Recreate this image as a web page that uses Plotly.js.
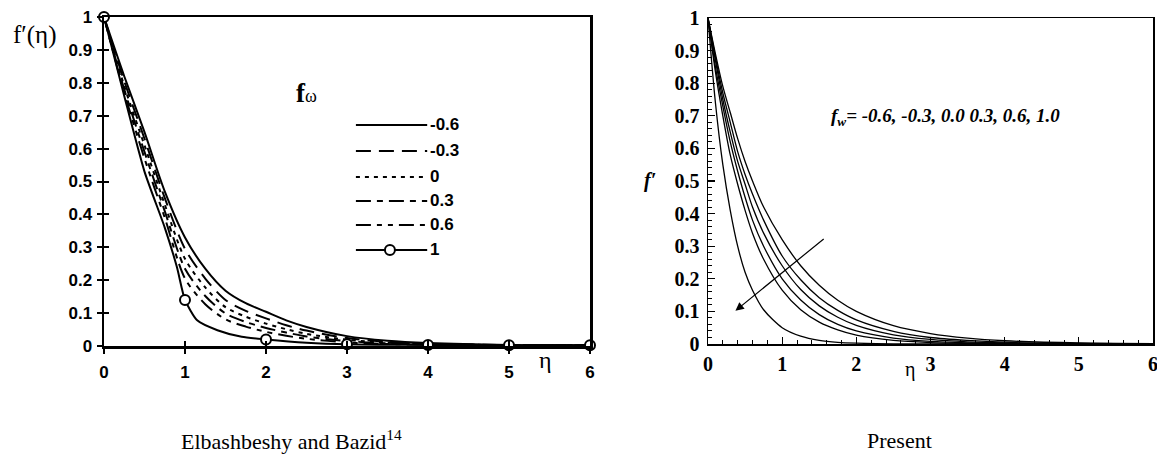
<!DOCTYPE html>
<html>
<head>
<meta charset="utf-8">
<script src="https://cdn.plot.ly/plotly-3.0.1.min.js"></script>
<style>html,body{margin:0;padding:0;background:#fff;}#chart{width:1157px;height:454px;}</style>
</head>
<body>
<div id="chart"></div>
<script>
// ---------- Data: left panel (Elbashbeshy and Bazid) ----------
const etaLeft = [0, 0.25, 0.5, 0.75, 1, 1.25, 1.5, 1.75, 2, 2.25, 2.5, 3, 3.5, 4, 5, 6];
const leftM06 = [1, 0.82, 0.65, 0.47, 0.33, 0.235, 0.168, 0.13, 0.104, 0.078, 0.058, 0.03, 0.016, 0.009, 0.003, 0.002];
const leftM03 = [1, 0.805, 0.63, 0.45, 0.295, 0.205, 0.14, 0.107, 0.084, 0.063, 0.047, 0.024, 0.013, 0.007, 0.003, 0.002];
const left00  = [1, 0.79, 0.61, 0.43, 0.265, 0.178, 0.118, 0.089, 0.068, 0.051, 0.037, 0.019, 0.010, 0.006, 0.0025, 0.002];
const left03  = [1, 0.78, 0.59, 0.41, 0.235, 0.152, 0.099, 0.073, 0.055, 0.041, 0.029, 0.015, 0.008, 0.005, 0.0025, 0.002];
const left06  = [1, 0.77, 0.57, 0.39, 0.205, 0.127, 0.081, 0.059, 0.043, 0.031, 0.022, 0.011, 0.006, 0.004, 0.002, 0.002];
const etaLeft1 = [0, 0.25, 0.5, 0.75, 0.9, 1, 1.15, 1.4, 1.7, 2, 2.5, 3, 3.5, 4, 5, 6];
const left10   = [1, 0.76, 0.53, 0.36, 0.24, 0.14, 0.078, 0.048, 0.028, 0.02, 0.01, 0.005, 0.004, 0.003, 0.002, 0.002];
const leftLabels = ["-0.6", "-0.3", "0", "0.3", "0.6", "1"];
const xTicks = [0, 1, 2, 3, 4, 5, 6];
const xTickText = ["0", "1", "2", "3", "4", "5", "6"];
const yTicks = [0, 0.1, 0.2, 0.3, 0.4, 0.5, 0.6, 0.7, 0.8, 0.9, 1];
const yTickText = ["0", "0.1", "0.2", "0.3", "0.4", "0.5", "0.6", "0.7", "0.8", "0.9", "1"];

// ---------- Data: right panel (Present) ----------
const etaRight = [0, 0.1, 0.2, 0.3, 0.4, 0.5, 0.6, 0.75, 1, 1.25, 1.5, 1.75, 2, 2.5, 3, 3.5, 4, 5, 6];
const rightM06 = [1, 0.89, 0.79, 0.71, 0.63, 0.56, 0.50, 0.42, 0.32, 0.24, 0.18, 0.134, 0.10, 0.056, 0.032, 0.018, 0.010, 0.003, 0.001];
const rightM03 = [1, 0.88, 0.77, 0.68, 0.59, 0.52, 0.46, 0.38, 0.27, 0.197, 0.142, 0.103, 0.074, 0.039, 0.020, 0.011, 0.0055, 0.0015, 0.0004];
const right00  = [1, 0.87, 0.75, 0.65, 0.56, 0.49, 0.42, 0.34, 0.24, 0.167, 0.117, 0.082, 0.057, 0.028, 0.014, 0.0067, 0.0033, 0.0008, 0.0002];
const right03  = [1, 0.85, 0.73, 0.62, 0.53, 0.45, 0.38, 0.30, 0.20, 0.135, 0.09, 0.06, 0.04, 0.018, 0.008, 0.0037, 0.0017, 0.0003, 0.0001];
const right06  = [1, 0.835, 0.70, 0.58, 0.49, 0.41, 0.34, 0.26, 0.165, 0.105, 0.067, 0.043, 0.027, 0.011, 0.0045, 0.0018, 0.0007, 0.0001, 0];
const right10  = [1, 0.74, 0.55, 0.41, 0.30, 0.22, 0.165, 0.105, 0.05, 0.024, 0.011, 0.005, 0.0025, 0.0006, 0.0001, 0, 0, 0, 0];
const rightNote = "f<sub>w</sub>= -0.6, -0.3, 0.0 0.3, 0.6, 1.0";

// ---------- Layout helpers ----------
const W = 1157, H = 454;
const px = v => v / W;
const py = v => 1 - v / H;
const SANS = "Liberation Sans, Arial, sans-serif";
const SERIF = "Liberation Serif, Times New Roman, serif";
const bold = arr => arr.map(s => "<b>" + s + "</b>");

const leftSeries = [leftM06, leftM03, left00, left03, left06];
const leftDash = ["solid", "15px,8px", "4px,5px", "15px,6px,6px,6px", "15px,6px,5px,6px,5px,6px"];

const traces = [];
leftSeries.forEach((ys, i) => {
  traces.push({x: etaLeft, y: ys, xaxis: "x", yaxis: "y", mode: "lines", cliponaxis: false,
    line: {color: "#000", width: 2, dash: leftDash[i], shape: "spline", smoothing: 0.8},
    hoverinfo: "skip", showlegend: false});
});
traces.push({x: etaLeft1, y: left10, xaxis: "x", yaxis: "y", mode: "lines", cliponaxis: false,
  line: {color: "#000", width: 2, shape: "spline", smoothing: 0.6}, hoverinfo: "skip", showlegend: false});
const intIdx = etaLeft1.map((v, i) => Number.isInteger(v) ? i : -1).filter(i => i >= 0);
traces.push({x: intIdx.map(i => etaLeft1[i]), y: intIdx.map(i => left10[i]), xaxis: "x", yaxis: "y",
  mode: "markers", cliponaxis: false,
  marker: {symbol: "circle", size: 10, color: "#fff", line: {color: "#000", width: 2}},
  hoverinfo: "skip", showlegend: false});
// invisible trace to host the crossing-tick overlay axes
traces.push({x: etaLeft, y: leftM06, xaxis: "x3", yaxis: "y3", mode: "lines",
  line: {width: 0, color: "rgba(0,0,0,0)"}, hoverinfo: "skip", showlegend: false});

[rightM06, rightM03, right00, right03, right06, right10].forEach(ys => {
  traces.push({x: etaRight, y: ys, xaxis: "x2", yaxis: "y2", mode: "lines", cliponaxis: true,
    line: {color: "#000", width: 1.3, shape: "spline", smoothing: 0.8}, hoverinfo: "skip", showlegend: false});
});

const LX = [px(104), px(590)], LY = [py(346), py(17)];
const RX = [px(708), px(1153)], RY = [py(344), py(18)];

const shapes = [];
const annotations = [];
// left legend samples
const legRows = [0.672, 0.593, 0.514, 0.441, 0.368, 0.292];
legRows.forEach((yv, i) => {
  shapes.push({type: "line", xref: "x", yref: "y", x0: 3.11, x1: 3.99, y0: yv, y1: yv,
    line: {color: "#000", width: 2, dash: i < 5 ? leftDash[i] : "solid"}});
  annotations.push({xref: "x", yref: "y", x: 4.0, y: yv, text: "<b>" + leftLabels[i] + "</b>", showarrow: false,
    xanchor: "left", yanchor: "middle", font: {family: SANS, size: 17, color: "#000"}});
});
shapes.push({type: "circle", xref: "x", yref: "y", xsizemode: "pixel", ysizemode: "pixel",
  xanchor: 3.53, yanchor: legRows[5], x0: -5, x1: 5, y0: -5, y1: 5,
  fillcolor: "#fff", line: {color: "#000", width: 2}});
annotations.push({xref: "paper", yref: "paper", x: px(35), y: py(35), text: "f′(η)", showarrow: false,
  xanchor: "center", yanchor: "middle", font: {family: SERIF, size: 25, color: "#000"}});
annotations.push({xref: "paper", yref: "paper", x: px(306), y: py(93), text: "<b>f</b><span style='font-size:18px'>ω</span>", showarrow: false,
  xanchor: "center", yanchor: "middle", font: {family: SERIF, size: 27, color: "#000"}});
annotations.push({xref: "paper", yref: "paper", x: px(545), y: py(360), text: "η", showarrow: false,
  xanchor: "center", yanchor: "middle", font: {family: SERIF, size: 24, color: "#000"}});
// right panel texts
annotations.push({xref: "paper", yref: "paper", x: px(829), y: py(117), text: "<i><b>" + rightNote + "</b></i>", showarrow: false,
  xanchor: "left", yanchor: "middle", font: {family: SERIF, size: 19, color: "#000"}});
annotations.push({xref: "paper", yref: "paper", x: px(650), y: py(180), text: "<i><b>f′</b></i>", showarrow: false,
  xanchor: "center", yanchor: "middle", font: {family: SERIF, size: 20, color: "#000"}});
annotations.push({xref: "paper", yref: "paper", x: px(910), y: py(369), text: "η", showarrow: false,
  xanchor: "center", yanchor: "middle", font: {family: SERIF, size: 20, color: "#000"}});
annotations.push({xref: "x2", yref: "y2", x: 0.37, y: 0.102, ax: 1.58, ay: 0.326, axref: "x2", ayref: "y2",
  showarrow: true, arrowhead: 2, arrowsize: 1.4, arrowwidth: 1.2, arrowcolor: "#000", text: ""});
// captions
annotations.push({xref: "paper", yref: "paper", x: px(179), y: py(440), text: "Elbashbeshy and Bazid<sup>14</sup>", showarrow: false,
  xanchor: "left", yanchor: "middle", font: {family: SERIF, size: 22, color: "#000"}});
annotations.push({xref: "paper", yref: "paper", x: px(865), y: py(440), text: "Present", showarrow: false,
  xanchor: "left", yanchor: "middle", font: {family: SERIF, size: 22, color: "#000"}});

const leftTickFont = {family: SANS, size: 17, color: "#000"};
const rightTickFont = {family: SERIF, size: 20, color: "#000"};

const layout = {
  width: W, height: H, margin: {l: 0, r: 0, t: 0, b: 0}, paper_bgcolor: "#fff", plot_bgcolor: "rgba(0,0,0,0)",
  showlegend: false,
  xaxis: {domain: LX, anchor: "y", range: [0, 6], tickmode: "array", tickvals: xTicks, ticktext: bold(xTickText),
    showgrid: false, zeroline: false, showline: true, linewidth: 2.5, linecolor: "#000", mirror: true,
    ticks: "outside", ticklen: 5, tickwidth: 2, tickcolor: "#000", ticklabelstandoff: 4,
    ticklabeloverflow: "allow", tickfont: leftTickFont},
  yaxis: {domain: LY, anchor: "x", range: [0, 1], tickmode: "array", tickvals: yTicks, ticktext: bold(yTickText),
    showgrid: false, zeroline: false, showline: true, linewidth: 2.5, linecolor: "#000", mirror: true,
    ticks: "outside", ticklen: 5, tickwidth: 2, tickcolor: "#000", ticklabelstandoff: 1,
    ticklabeloverflow: "allow", tickfont: leftTickFont},
  xaxis3: {overlaying: "x", anchor: "y3", range: [0, 6], tickmode: "array", tickvals: xTicks,
    showgrid: false, zeroline: false, showline: false, showticklabels: false,
    ticks: "inside", ticklen: 5, tickwidth: 2, tickcolor: "#000"},
  yaxis3: {overlaying: "y", anchor: "x3", range: [0, 1], tickmode: "array", tickvals: yTicks,
    showgrid: false, zeroline: false, showline: false, showticklabels: false,
    ticks: "inside", ticklen: 5, tickwidth: 2, tickcolor: "#000"},
  xaxis2: {domain: RX, anchor: "y2", range: [0, 6], tickmode: "array", tickvals: xTicks, ticktext: bold(xTickText),
    showgrid: false, zeroline: false, showline: true, linewidth: 1.5, linecolor: "#000", mirror: true,
    ticks: "inside", ticklen: 7, tickwidth: 1.2, tickcolor: "#000", ticklabelstandoff: 1,
    minor: {ticks: "inside", ticklen: 4, dtick: 0.2, tickwidth: 1, tickcolor: "#000", showgrid: false},
    ticklabeloverflow: "allow", tickfont: rightTickFont},
  yaxis2: {domain: RY, anchor: "x2", range: [0, 1], tickmode: "array", tickvals: yTicks, ticktext: bold(yTickText),
    showgrid: false, zeroline: false, showline: true, linewidth: 1.5, linecolor: "#000", mirror: true,
    ticks: "inside", ticklen: 7, tickwidth: 1.2, tickcolor: "#000", ticklabelstandoff: 3,
    minor: {ticks: "inside", ticklen: 4, dtick: 0.02, tickwidth: 1, tickcolor: "#000", showgrid: false},
    ticklabeloverflow: "allow", tickfont: rightTickFont},
  shapes: shapes,
  annotations: annotations
};

Plotly.newPlot("chart", traces, layout, {staticPlot: true, displayModeBar: false});
</script>
</body>
</html>
